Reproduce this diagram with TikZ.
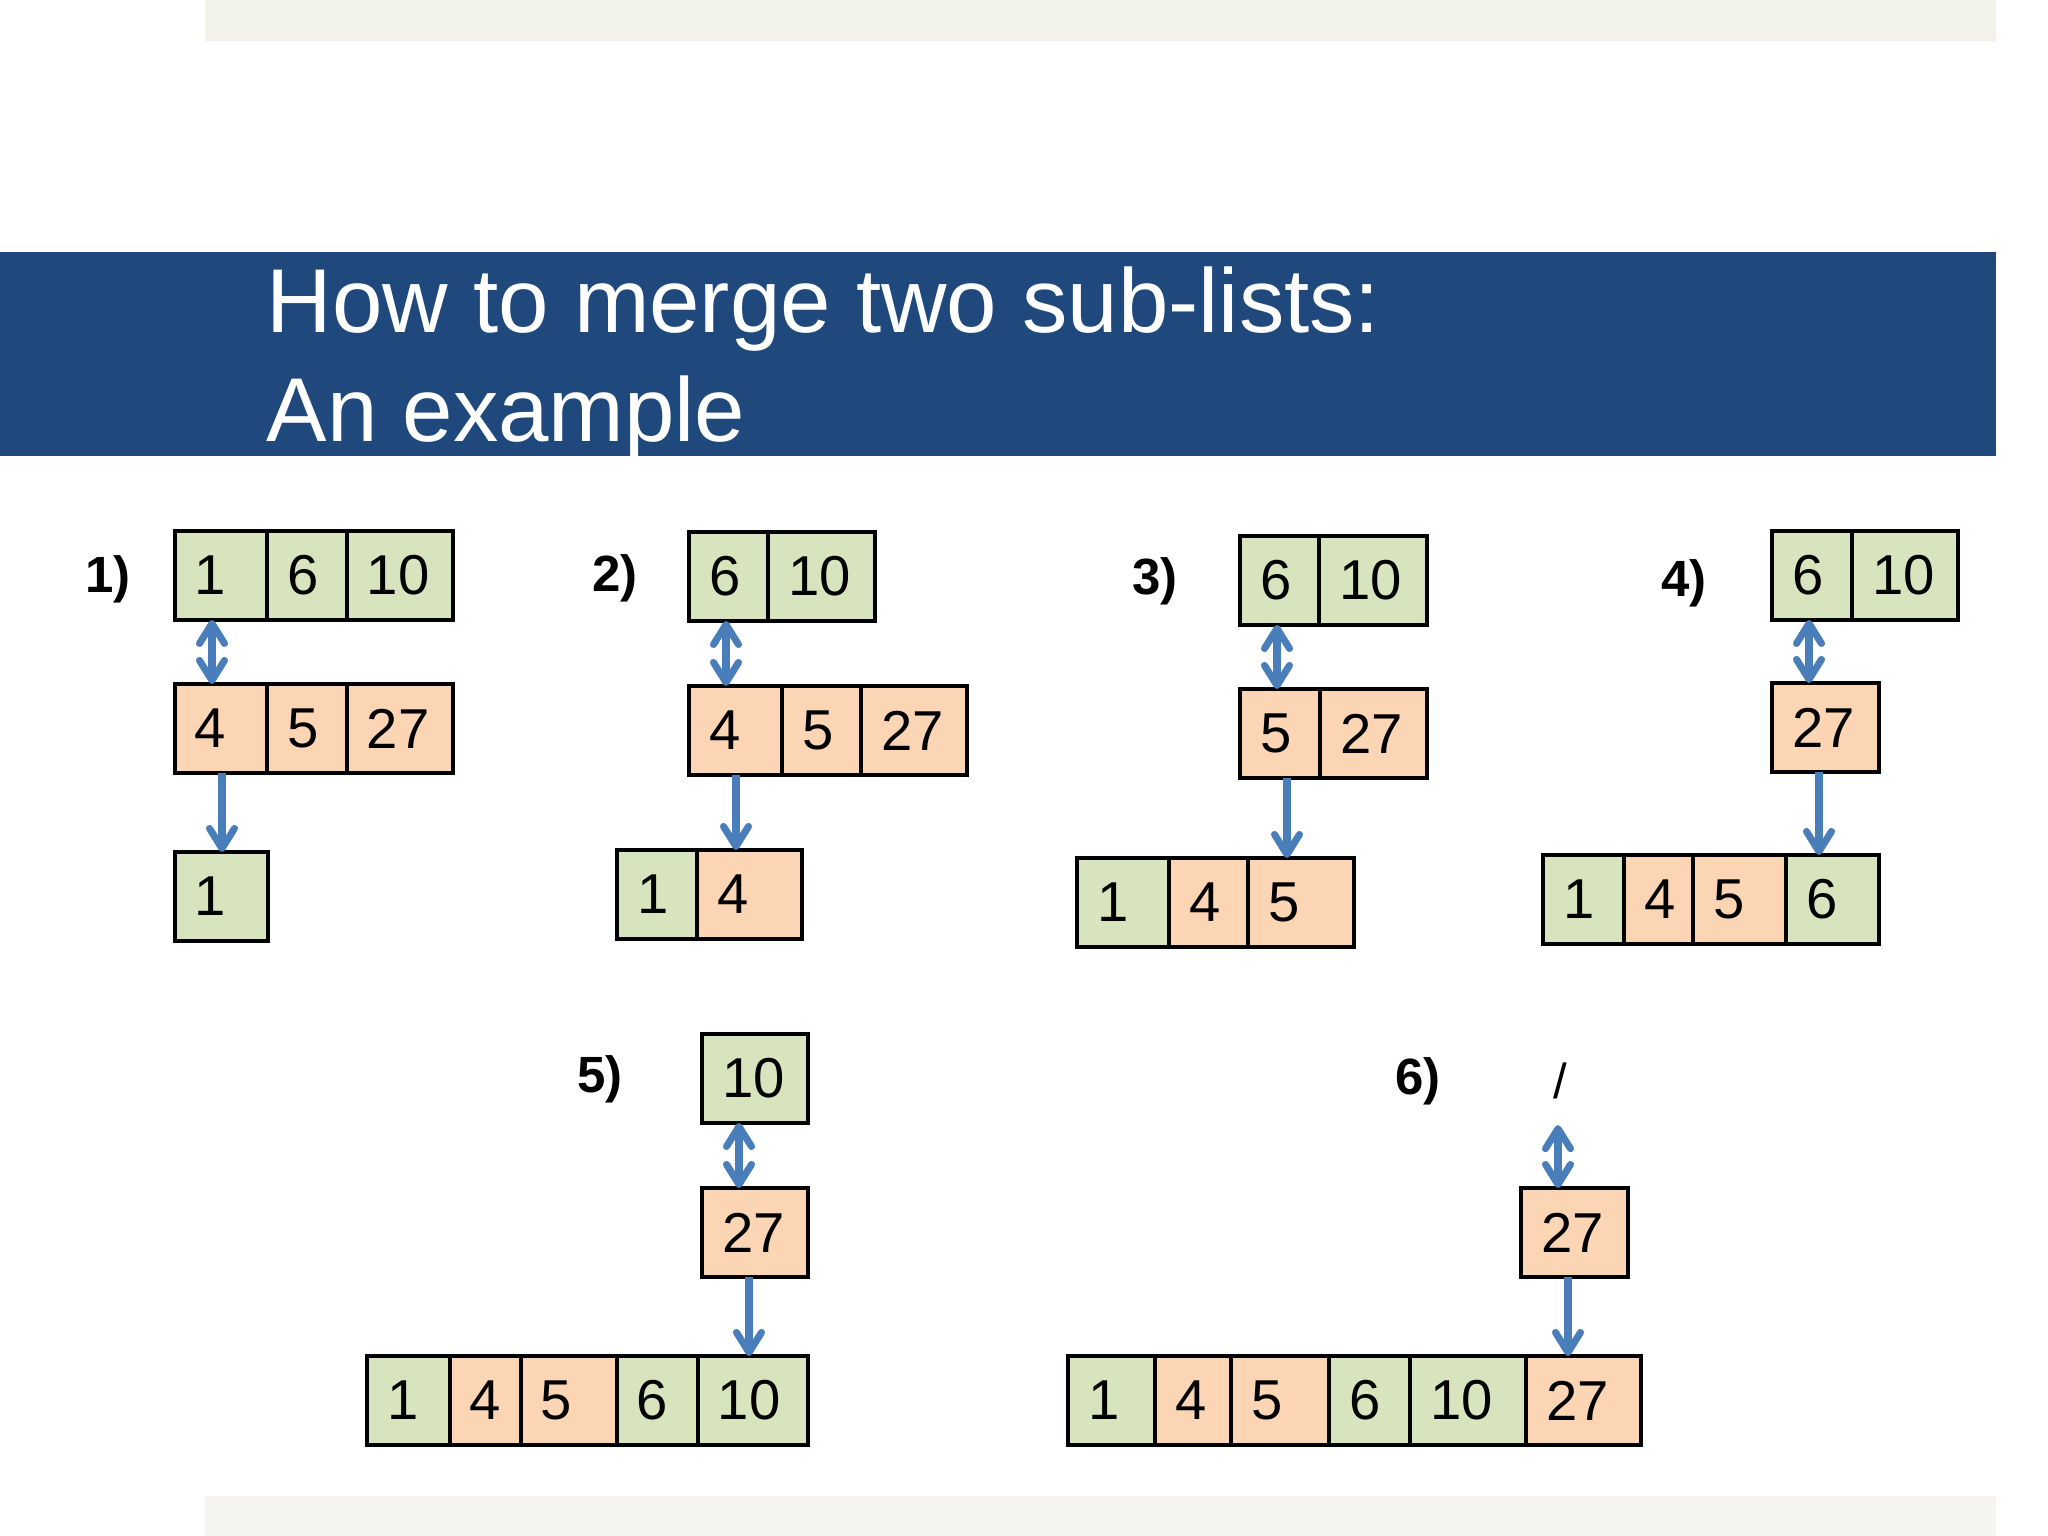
\documentclass[tikz,border=0pt]{standalone}
\usepackage{fontspec}
\setmainfont{Liberation Sans}
\usepackage{tikz}
\usetikzlibrary{positioning, arrows.meta}
\definecolor{cellgreen}{HTML}{D7E4BD}
\definecolor{cellorange}{HTML}{FCD5B5}
\definecolor{arrowblue}{HTML}{4A7EBB}
\definecolor{bandblue}{HTML}{1F497D}
\definecolor{bandgrey}{HTML}{F2F2EA}
\definecolor{footgrey}{HTML}{F5F4F1}
\hfuzz=5pt
\tikzset{
  cell/.style={rectangle, draw, line width=0.9pt, outer sep=0pt, minimum height=0.89cm, inner xsep=0.2cm, inner ysep=0pt, text width=#1, align=left, font=\fontsize{16}{19}\selectfont},
  gcell/.style={cell=#1, fill=cellgreen},
  ocell/.style={cell=#1, fill=cellorange},
  steplabel/.style={anchor=base, inner sep=0pt, font=\fontsize{14.5}{17}\selectfont\bfseries},
  headline/.style={anchor=base west, inner sep=0pt, text=white, font=\fontsize{25.8}{31}\selectfont},
  cmp/.style={{Straight Barb[length=2mm, width=2.5mm, round]}-{Straight Barb[length=2mm, width=2.5mm, round]}, line width=2pt, draw=arrowblue},
  mv/.style={-{Straight Barb[length=2mm, width=2.5mm, round]}, line width=2pt, draw=arrowblue},
}

\begin{document}
\begin{tikzpicture}
  \useasboundingbox (0,0) rectangle (20.48,15.36);

  % Slide bands and title
  \fill[bandgrey] (2.05,14.95) rectangle (19.96,15.36);
  \fill[footgrey] (2.05,0) rectangle (19.96,0.40);
  \fill[bandblue] (0,10.80) rectangle (19.96,12.84);
  \node[headline] (title) at (2.66,12.03) {How to merge two sub-lists:};
  \node[headline] (subtitle) at (2.66,10.94) {An example};

  % Step 1
  \node[steplabel] (s1) at (1.08,9.43) {1)};
  \node[gcell=0.52cm, anchor=north west] (p1a1) at (1.75,10.05) {1};
  \node[gcell=0.40cm, right=0pt of p1a1] (p1a2) {6};
  \node[gcell=0.66cm, right=0pt of p1a2] (p1a3) {10};
  \node[ocell=0.52cm, anchor=north west] (p1b1) at (1.75,8.52) {4};
  \node[ocell=0.40cm, right=0pt of p1b1] (p1b2) {5};
  \node[ocell=0.66cm, right=0pt of p1b2] (p1b3) {27};
  \node[gcell=0.53cm, anchor=north west] (p1c1) at (1.75,6.84) {1};
  \draw[cmp] ([xshift=3.7mm]p1a1.south west) -- ([xshift=3.7mm]p1b1.north west);
  \draw[mv] ([xshift=4.7mm]p1b1.south west) -- ([xshift=4.7mm]p1b1.south west |- p1c1.north);

  % Step 2
  \node[steplabel] (s2) at (6.15,9.44) {2)};
  \node[gcell=0.39cm, anchor=north west] (p2a1) at (6.89,10.04) {6};
  \node[gcell=0.67cm, right=0pt of p2a1] (p2a2) {10};
  \node[ocell=0.53cm, anchor=north west] (p2b1) at (6.89,8.50) {4};
  \node[ocell=0.39cm, right=0pt of p2b1] (p2b2) {5};
  \node[ocell=0.66cm, right=0pt of p2b2] (p2b3) {27};
  \node[gcell=0.40cm, anchor=north west] (p2c1) at (6.17,6.86) {1};
  \node[ocell=0.65cm, right=0pt of p2c1] (p2c2) {4};
  \draw[cmp] ([xshift=3.7mm]p2a1.south west) -- ([xshift=3.7mm]p2b1.north west);
  \draw[mv] ([xshift=4.7mm]p2b1.south west) -- ([xshift=4.7mm]p2b1.south west |- p2c2.north);

  % Step 3
  \node[steplabel] (s3) at (11.55,9.41) {3)};
  \node[gcell=0.39cm, anchor=north west] (p3a1) at (12.40,10.00) {6};
  \node[gcell=0.68cm, right=0pt of p3a1] (p3a2) {10};
  \node[ocell=0.40cm, anchor=north west] (p3b1) at (12.40,8.47) {5};
  \node[ocell=0.67cm, right=0pt of p3b1] (p3b2) {27};
  \node[gcell=0.52cm, anchor=north west] (p3c1) at (10.77,6.78) {1};
  \node[ocell=0.39cm, right=0pt of p3c1] (p3c2) {4};
  \node[ocell=0.66cm, right=0pt of p3c2] (p3c3) {5};
  \draw[cmp] ([xshift=3.7mm]p3a1.south west) -- ([xshift=3.7mm]p3b1.north west);
  \draw[mv] ([xshift=4.7mm]p3b1.south west) -- ([xshift=4.7mm]p3b1.south west |- p3c3.north);

  % Step 4
  \node[steplabel] (s4) at (16.84,9.39) {4)};
  \node[gcell=0.40cm, anchor=north west] (p4a1) at (17.72,10.05) {6};
  \node[gcell=0.66cm, right=0pt of p4a1] (p4a2) {10};
  \node[ocell=0.67cm, anchor=north west] (p4b1) at (17.72,8.53) {27};
  \node[gcell=0.41cm, anchor=north west] (p4c1) at (15.43,6.81) {1};
  \node[ocell=0.29cm, right=0pt of p4c1] (p4c2) {4};
  \node[ocell=0.53cm, right=0pt of p4c2] (p4c3) {5};
  \node[gcell=0.53cm, right=0pt of p4c3] (p4c4) {6};
  \draw[cmp] ([xshift=3.7mm]p4a1.south west) -- ([xshift=3.7mm]p4b1.north west);
  \draw[mv] ([xshift=4.7mm]p4b1.south west) -- ([xshift=4.7mm]p4b1.south west |- p4c4.north);

  % Step 5
  \node[steplabel] (s5) at (6.00,4.43) {5)};
  \node[gcell=0.66cm, anchor=north west] (p5a1) at (7.02,5.02) {10};
  \node[ocell=0.66cm, anchor=north west] (p5b1) at (7.02,3.48) {27};
  \node[gcell=0.43cm, anchor=north west] (p5c1) at (3.67,1.80) {1};
  \node[ocell=0.31cm, right=0pt of p5c1] (p5c2) {4};
  \node[ocell=0.56cm, right=0pt of p5c2] (p5c3) {5};
  \node[gcell=0.41cm, right=0pt of p5c3] (p5c4) {6};
  \node[gcell=0.70cm, right=0pt of p5c4] (p5c5) {10};
  \draw[cmp] ([xshift=3.7mm]p5a1.south west) -- ([xshift=3.7mm]p5b1.north west);
  \draw[mv] ([xshift=4.7mm]p5b1.south west) -- ([xshift=4.7mm]p5b1.south west |- p5c5.north);

  % Step 6
  \node[steplabel] (s6) at (14.18,4.41) {6)};
  \node[anchor=base, inner sep=0pt, font=\fontsize{14}{17}\selectfont] (p6nil) at (15.60,4.37) {/};
  \node[ocell=0.67cm, anchor=north west] (p6b1) at (15.21,3.48) {27};
  \node[gcell=0.47cm, anchor=north west] (p6c1) at (10.68,1.80) {1};
  \node[ocell=0.36cm, right=0pt of p6c1] (p6c2) {4};
  \node[ocell=0.58cm, right=0pt of p6c2] (p6c3) {5};
  \node[gcell=0.41cm, right=0pt of p6c3] (p6c4) {6};
  \node[gcell=0.76cm, right=0pt of p6c4] (p6c5) {10};
  \node[ocell=0.75cm, right=0pt of p6c5] (p6c6) {27};
  \draw[cmp, shorten <=2.5mm] ([xshift=3.7mm]p6b1.north west |- p6nil.south) -- ([xshift=3.7mm]p6b1.north west);
  \draw[mv] ([xshift=4.7mm]p6b1.south west) -- ([xshift=4.7mm]p6b1.south west |- p6c6.north);

\end{tikzpicture}
\end{document}
